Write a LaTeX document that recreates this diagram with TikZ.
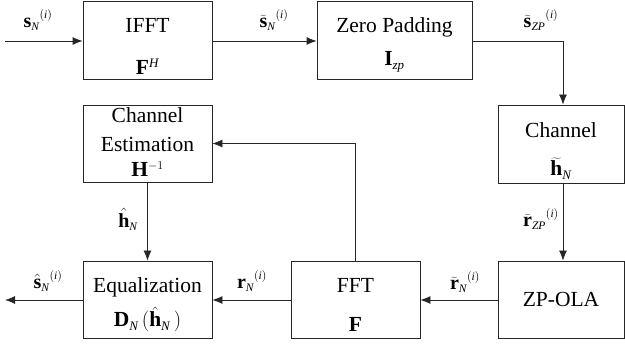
\documentclass[tikz,border=0pt]{standalone}
\usepackage{fontspec}
\setmainfont{Liberation Serif}
\usetikzlibrary{arrows.meta,calc}
\DeclareMathSizes{20}{20}{11.5}{9}
\DeclareMathSizes{21.5}{21.5}{13}{10}
\newcommand{\sigsup}{{}^{\raisebox{2pt}{$\scriptstyle(\mathit{i})$}}}
\tikzset{
  blk/.style={draw=black!85, line width=0.8pt, minimum width=129pt, minimum height=78pt, inner sep=0pt},
  txt/.style={font=\fontsize{21.5}{24}\selectfont, anchor=base, inner sep=0pt},
  lab/.style={font=\fontsize{20}{22}\selectfont, inner sep=0pt},
  arr/.style={-{Latex[length=10pt,width=8pt]}, line width=0.8pt, draw=black!85},
}
\begin{document}
\begin{tikzpicture}[x=1pt,y=-1pt]
\useasboundingbox (0,0) rectangle (625,347);
% blocks
\node[blk] (ifft) at (147.5,40) {};
\node[blk, minimum width=155pt] (zp) at (394.5,40) {};
\node[blk, minimum width=126pt] (ch) at (561,144) {};
\node[blk, minimum height=77pt] (ce) at (147.5,143.5) {};
\node[blk, minimum height=77pt] (eq) at (147.5,299.5) {};
\node[blk, minimum height=77pt] (fft) at (355.5,299.5) {};
\node[blk, minimum width=126pt, minimum height=77pt] (ola) at (561,299.5) {};
% block texts
\node[txt] (t1) at (147.5,33) {IFFT};
\node[txt] (t2) at (147.5,75) {$\mathbf{F}^{\mathit{H}}$};
\node[txt] (t3) at (394.5,33) {Zero Padding};
\node[txt] (t4) at (394.5,66) {$\mathbf{I}_{\mathit{zp}}$};
\node[txt] (t5) at (561,138) {Channel};
\node[txt] (t6) at (561,176) {$\widetilde{\mathbf{h}}_{\mathit{N}}$};
\node[txt] (t7) at (147.5,123) {Channel};
\node[txt] (t8) at (147.5,152) {Estimation};
\node[txt] (t9) at (147.5,177) {$\mathbf{H}^{-1}$};
\node[txt] (t10) at (147.5,293) {Equalization};
\node[txt] (t11) at (147.5,327) {$\mathbf{D}_{\mathit{N}}\,(\hat{\mathbf{h}}_{\mathit{N}}\,)$};
\node[txt] (t12) at (355.5,293) {FFT};
\node[txt] (t13) at (355.5,332) {$\mathbf{F}$};
\node[txt] (t14) at (561,307) {ZP-OLA};
% connectors
\coordinate (in) at (5,41);
\coordinate (out) at (5,300);
\draw[arr] (in) -- (in -| ifft.west);
\draw[arr] (ifft.east |- in) -- (zp.west |- in);
\draw[arr] (zp.east |- in) -| ($(ch.north)+(2,0)$);
\draw[arr] ($(ch.south)+(2,0)$) -- ($(ola.north)+(2,0)$);
\draw[arr] (ola.west |- out) -- (fft.east |- out);
\draw[arr] (fft.west |- out) -- (eq.east |- out);
\draw[arr] (eq.west |- out) -- (out);
\draw[arr] (fft.north) |- (ce.east);
\draw[arr] (ce.south) -- (eq.north);
% signal labels
\node[lab] (l1) at (38,20) {$\mathbf{s}_{\mathit{N}}\sigsup$};
\node[lab] (l2) at (274,20) {$\widetilde{\mathbf{s}}_{\mathit{N}}\sigsup$};
\node[lab] (l3) at (541,20) {$\widetilde{\mathbf{s}}_{\mathit{ZP}}\sigsup$};
\node[lab] (l4) at (128,219) {$\hat{\mathbf{h}}_{\mathit{N}}$};
\node[lab] (l5) at (48,281) {$\hat{\mathbf{s}}_{\mathit{N}}\sigsup$};
\node[lab] (l6) at (252,281) {$\mathbf{r}_{\mathit{N}}\sigsup$};
\node[lab] (l7) at (465,282) {$\widetilde{\mathbf{r}}_{\mathit{N}}\sigsup$};
\node[lab] (l8) at (541,219) {$\widetilde{\mathbf{r}}_{\mathit{ZP}}\sigsup$};
\end{tikzpicture}
\end{document}
